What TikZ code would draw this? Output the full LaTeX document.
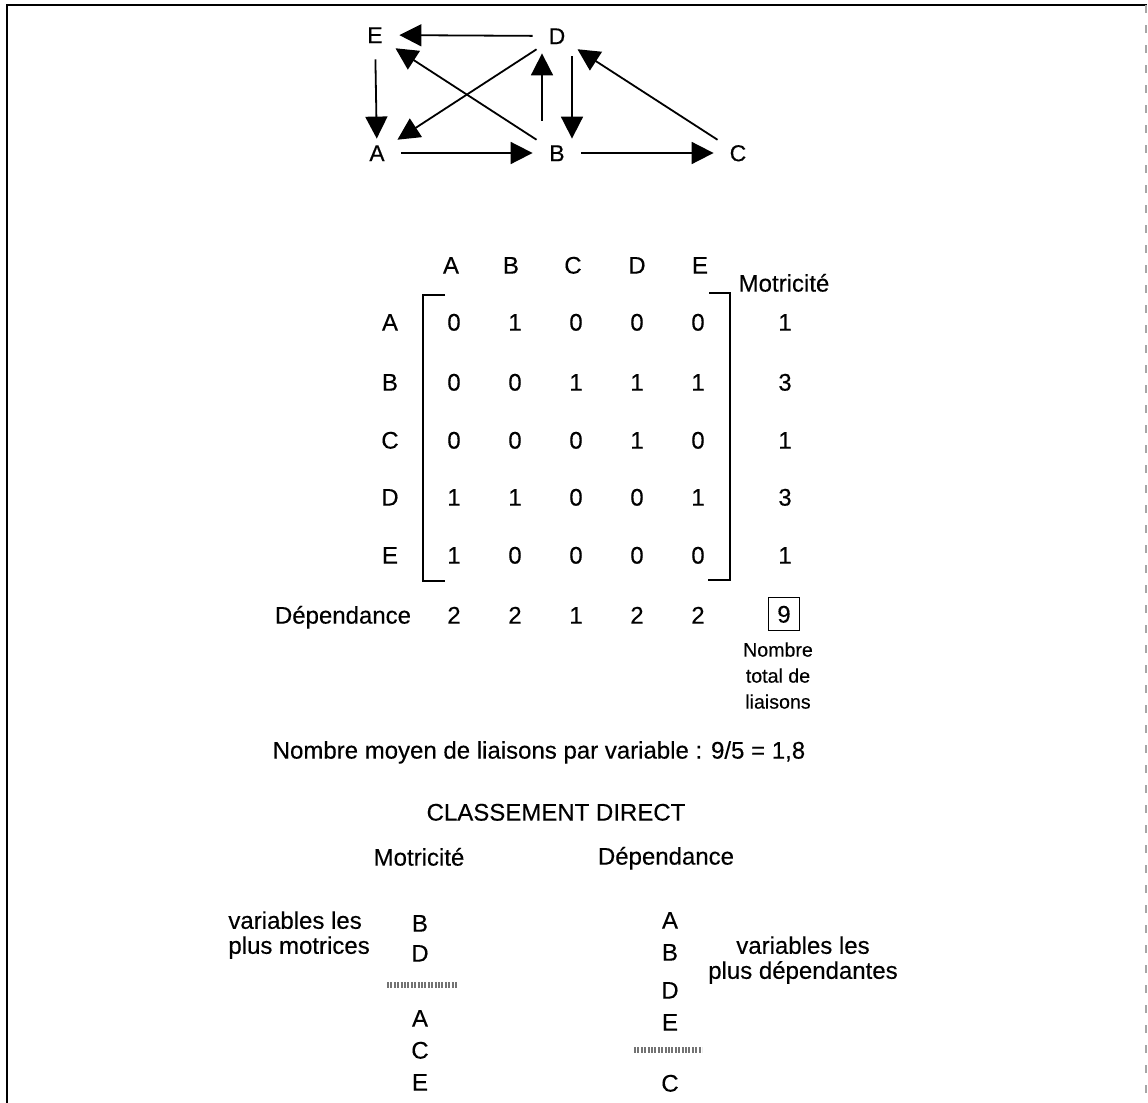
\documentclass[tikz,border=0pt]{standalone}
\usepackage{fontspec}
\setmainfont{Liberation Sans}[FakeBold=0.3]
\usepackage{tikz}
\usetikzlibrary{arrows.meta,positioning}

\begin{document}
\begin{tikzpicture}[x=0.5pt,y=-0.5pt,
  lbl/.style={font=\fontsize{12pt}{12.5pt}\selectfont,inner sep=0pt,text height=8.6pt,text depth=0pt},
  mtxt/.style={font=\fontsize{12pt}{12.5pt}\selectfont,inner sep=0pt},
  small/.style={font=\fontsize{9.8pt}{13pt}\selectfont,inner sep=0pt,align=center},
  vtx/.style={font=\fontsize{11.5pt}{12pt}\selectfont,inner sep=0pt,text height=8.2pt,text depth=0pt,circle,minimum size=24pt},
  arr/.style={-{Triangle[length=11pt,width=11pt]},line width=0.9pt},
  brk/.style={line width=0.7pt},
  sep/.style={line width=2.8pt,black!55,dash pattern=on 1pt off 0.7pt}
]
\useasboundingbox (0,0) rectangle (1148,1103);
\draw[line width=1.2pt] (7,1103) -- (7,5) -- (1147,5);
\draw[black!35,line width=0.6pt,dash pattern=on 4pt off 6pt] (1146,5) -- (1146,1103);

\node[vtx] (E) at (375,35) {E};
\node[vtx] (D) at (557,36) {D};
\node[vtx] (A) at (377,153) {A};
\node[vtx] (B) at (557,153) {B};
\node[vtx] (C) at (738,153) {C};
\draw[arr] (D) -- (E);
\draw[arr,shorten >=-5pt] (E) -- (A);
\draw[arr] (D) -- (A);
\draw[arr] (B) -- (E);
\draw[arr,shorten <=4pt,shorten >=-3.5pt] ([xshift=-7.5pt]B.north) -- ([xshift=-7.5pt]D.south);
\draw[arr,shorten <=-2pt,shorten >=-5pt] ([xshift=7.5pt]D.south) -- ([xshift=7.5pt]B.north);
\draw[arr] (A) -- (B);
\draw[arr] (B) -- (C);
\draw[arr] (C) -- (D);

\foreach \n/\x in {A/451,B/511,C/573,D/637,E/700}
  \node[lbl] (h\n) at (\x,265) {\n};
\node[lbl] (mothd) at (784,283) {Motricité};
\foreach \n/\y/\row/\mot in {A/322/{0,1,0,0,0}/1,B/382/{0,0,1,1,1}/3,C/440/{0,0,0,1,0}/1,D/497/{1,1,0,0,1}/3,E/555/{1,0,0,0,0}/1}{
  \node[lbl] (r\n) at (390,\y) {\n};
  \foreach \v [count=\j] in \row
    \node[lbl] (m\n\j) at ({393+61*\j},\y) {\v};
  \node[lbl] (mot\n) at (785,\y) {\mot};
}
\draw[brk] (445,295) -- (423,295) -- (423,581) -- (445,581);
\draw[brk] (709,293) -- (730,293) -- (730,580) -- (708,580);

\node[lbl] (dep) at (343,615) {Dépendance};
\foreach \v [count=\j] in {2,2,1,2,2}
  \node[lbl] (d\j) at ({393+61*\j},615) {\v};
\node[lbl,draw,line width=0.6pt,minimum width=15.5pt,minimum height=16.5pt] (tot) at (784,614) {9};
\node[small,anchor=north] (totlbl) at (778,642) {Nombre\\total de\\liaisons};

\node[lbl] (moyen) at (539,750) {Nombre moyen de liaisons par variable : 9/5 = 1,8};
\node[lbl] (classt) at (556,812) {CLASSEMENT DIRECT};
\node[lbl] (cmot) at (419,857) {Motricité};
\node[lbl] (cdep) at (666,856) {Dépendance};

\node[mtxt,align=left,anchor=north west] (motlbl) at (228,911) {variables les\\plus motrices};
\foreach \n/\y in {B/923,D/953,A/1018,C/1050,E/1082}
  \node[lbl] (l\n) at (420,\y) {\n};
\draw[sep] (387,985) -- (457,985);

\foreach \n/\y in {A/920,B/952,D/990,E/1022,C/1083}
  \node[lbl] (g\n) at (670,\y) {\n};
\draw[sep] (634,1050) -- (702,1050);
\node[mtxt,align=center,anchor=north] (deplbl) at (803,936) {variables les\\plus dépendantes};
\end{tikzpicture}
\end{document}
